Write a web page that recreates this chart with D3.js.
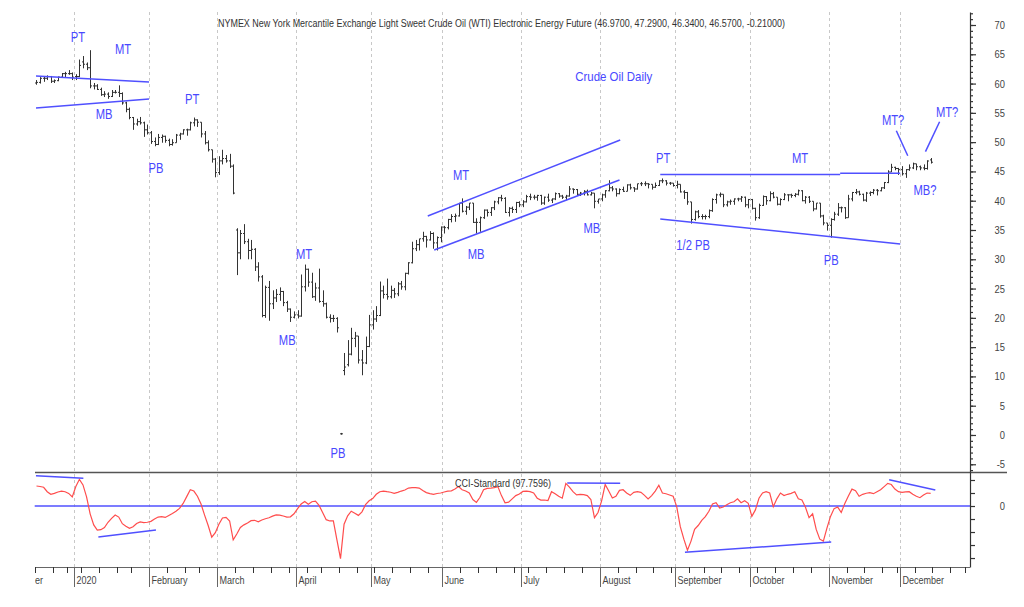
<!DOCTYPE html>
<html lang="en">
<head>
<meta charset="UTF-8">
<title>Crude Oil Daily</title>
<script src="https://d3js.org/d3.v7.min.js"></script>
<style>
  body { margin: 0; background: #fff; }
  text { font-family: "Liberation Sans", Arial, sans-serif; }
</style>
</head>
<body>
<script>
// trading calendar (NYMEX holidays skipped)
const holidays = ["2019-12-25", "2020-01-01", "2020-01-20", "2020-02-17", "2020-04-10",
                  "2020-05-25", "2020-07-03", "2020-09-07", "2020-11-26", "2020-12-25"];
const firstDay = "2019-12-16";
const monthLabels = ["December", "2020", "February", "March", "April", "May", "June",
                     "July", "August", "September", "October", "November", "December"];

// daily OHLC, one line per month (Dec 2019 .. Dec 2020)
const opens = [
  60.1,60.2,60.9,60.9,61.2,60.4,60.5,61.1,61.7,61.7,61.7,
  61.2,61.2,63.7,63.3,62.7,59.6,59.6,59.0,58.1,58.2,57.8,58.5,58.5,58.3,56.7,55.6,54.2,53.1,53.5,53.3,52.1,
  51.6,50.1,49.6,50.8,51.0,50.3,49.6,49.9,51.2,51.4,52.1,52.1,53.3,53.8,53.4,51.4,49.9,48.7,47.1,
  44.8,46.8,47.2,46.8,45.9,35.0,31.1,34.4,33.0,31.5,31.7,28.7,27.0,20.4,25.2,22.4,23.4,24.0,24.5,22.6,21.5,20.1,
  20.5,20.3,25.3,28.3,26.1,23.6,25.1,22.8,22.4,20.1,19.9,19.9,0.2,11.0,12.0,13.8,16.5,16.9,12.8,12.3,15.1,
  18.8,19.8,20.4,24.6,24.0,23.6,24.7,24.1,25.8,25.3,27.6,29.4,31.8,32.5,33.5,33.9,33.3,34.4,32.8,33.7,
  35.5,35.4,36.8,37.3,37.4,39.6,38.2,38.9,39.6,36.3,36.3,37.1,38.4,38.0,38.8,39.8,40.5,40.4,38.0,38.7,38.5,39.7,
  39.3,39.8,40.7,40.6,40.6,40.9,39.6,40.6,40.1,40.3,41.2,40.8,40.6,40.8,42.0,41.9,41.1,41.3,41.6,41.0,41.3,39.9,
  40.3,41.0,41.7,42.2,42.0,41.2,41.9,41.6,42.7,42.2,42.0,42.9,42.9,42.9,42.8,42.3,42.6,43.4,43.4,43.0,43.0,
  42.6,42.8,41.5,41.4,39.8,36.8,38.1,37.3,37.3,37.3,38.3,40.2,41.0,41.1,39.3,39.8,39.9,40.3,40.3,40.6,39.3,
  40.2,38.7,37.1,39.2,40.7,40.0,41.2,40.6,39.4,40.2,41.0,41.0,40.9,41.1,41.7,40.0,40.6,39.9,38.6,39.6,37.4,36.2,
  35.8,36.8,37.7,38.8,38.8,37.1,40.3,41.4,41.5,41.1,40.1,41.3,41.4,41.8,41.7,42.2,43.1,44.9,45.7,45.5,
  45.3,44.6,45.3,45.6,46.3,45.8,45.6,45.5,46.97
];
const highs = [
  60.6,61.1,61.2,61.4,61.3,60.7,61.2,61.8,62.0,62.3,61.9,
  61.6,64.1,64.7,63.6,65.7,60.1,59.9,59.3,58.7,58.5,58.9,58.9,59.7,58.5,56.9,55.9,54.3,54.0,54.3,53.5,53.0,
  51.9,50.8,51.4,51.3,51.1,50.6,50.5,51.4,51.6,52.2,52.3,53.5,54.2,53.9,53.4,51.9,50.3,48.7,47.3,
  47.6,48.7,47.8,48.0,46.2,35.3,35.0,36.0,33.5,33.3,31.9,29.5,27.3,25.5,26.3,24.7,24.9,25.2,24.6,22.9,21.6,21.1,
  21.3,27.4,29.1,28.4,27.7,26.0,28.4,24.7,22.6,20.6,20.5,20.1,0.35,14.0,16.2,18.3,17.6,16.9,14.5,16.8,20.5,
  21.3,22.0,26.2,25.5,26.7,25.5,25.1,26.1,26.3,27.7,29.5,33.0,33.3,33.5,34.7,34.0,34.8,34.6,33.9,35.6,
  35.7,36.9,37.7,37.8,39.6,40.4,39.1,39.6,39.6,37.0,37.3,38.5,38.5,38.9,40.0,40.6,41.0,40.6,38.9,39.0,39.8,39.9,
  40.1,41.0,41.2,41.0,41.0,41.0,40.7,41.2,40.4,41.4,41.3,41.0,41.0,42.5,42.1,42.0,41.5,41.8,41.9,41.5,41.3,40.3,
  41.2,41.8,43.5,42.5,42.1,42.1,42.4,42.8,42.9,42.3,42.9,43.2,43.3,43.0,42.8,43.1,43.5,43.8,43.5,43.2,43.0,
  43.4,42.8,41.8,41.5,39.8,38.3,38.4,37.7,37.6,38.5,40.4,41.2,41.4,41.1,40.0,40.2,40.4,40.5,40.8,40.7,40.3,
  40.3,38.8,39.5,40.9,40.8,41.6,41.5,40.6,40.4,41.3,41.1,41.2,41.3,41.9,41.8,40.8,40.8,39.9,39.6,39.6,37.6,36.2,
  37.0,38.1,39.6,39.0,38.9,41.0,41.5,42.0,41.7,41.2,41.5,41.6,42.0,42.0,42.3,43.2,45.2,46.3,45.8,45.6,
  45.9,45.4,46.2,46.5,46.3,46.0,46.2,46.9,47.29
];
const lows = [
  59.8,60.0,60.3,60.6,60.1,60.1,60.4,61.0,61.1,61.5,60.6,
  60.6,61.1,62.6,62.3,59.2,59.0,58.9,57.9,57.7,57.4,57.7,58.3,57.7,56.4,55.1,53.9,52.1,52.8,53.0,50.9,51.3,
  49.7,49.3,49.5,49.9,49.9,49.3,49.4,49.9,50.4,51.3,51.1,52.0,52.7,52.6,50.8,49.6,48.4,46.5,44.0,
  44.4,46.2,46.5,45.6,41.1,27.3,30.0,32.6,30.0,30.0,28.0,26.2,20.1,20.0,19.5,21.5,22.7,22.9,22.0,21.0,19.3,19.9,
  19.9,20.2,24.5,25.3,23.4,22.9,22.6,21.9,19.9,19.2,19.3,17.5,0.05,10.2,11.7,13.6,15.0,12.2,10.2,12.1,15.0,
  18.0,19.3,20.3,23.3,23.1,23.3,23.4,23.7,24.8,24.7,27.4,29.3,31.4,31.5,33.0,32.0,33.2,31.8,31.5,32.9,
  34.4,35.1,36.3,36.4,37.3,38.0,37.6,38.4,36.2,34.4,34.7,36.9,37.3,37.4,38.4,39.4,39.9,37.9,37.3,37.9,37.9,38.9,
  38.9,39.7,40.1,40.2,40.0,39.3,39.3,39.8,39.6,40.1,40.5,40.3,40.1,40.7,41.2,40.8,40.8,40.9,40.9,40.9,38.7,39.5,
  39.9,40.5,41.6,41.6,40.7,41.1,41.5,41.6,41.9,41.5,41.9,42.5,42.5,42.1,41.9,42.2,42.5,43.0,42.6,42.7,42.4,
  42.1,41.4,40.3,39.3,36.1,36.6,37.0,36.8,36.8,37.0,38.1,39.5,40.6,38.9,39.0,39.3,39.3,39.9,39.8,38.9,38.7,
  38.5,36.6,36.9,39.1,39.3,39.9,40.4,39.2,39.2,40.1,39.9,40.5,40.6,40.9,39.9,39.5,39.6,38.2,38.5,37.1,35.8,34.9,
  33.7,36.6,37.4,38.0,36.9,37.1,39.9,41.1,40.9,39.9,39.8,40.8,41.1,40.9,41.6,42.0,43.0,44.9,45.2,44.4,
  44.3,43.9,45.1,45.4,45.2,45.2,45.2,45.3,46.34
];
const closes = [
  60.2,60.9,60.9,61.2,60.4,60.5,61.1,61.7,61.7,61.7,61.1,
  61.2,63.1,63.3,62.7,59.6,59.6,59.0,58.1,58.2,57.8,58.5,58.5,58.3,56.7,55.6,54.2,53.1,53.5,53.3,52.1,51.6,
  50.1,49.6,50.8,51.0,50.3,49.6,49.9,51.2,51.4,52.1,52.1,53.3,53.8,53.4,51.4,49.9,48.7,47.1,44.8,
  46.8,47.2,46.8,45.9,41.3,31.1,34.4,33.0,31.5,31.7,28.7,27.0,20.4,25.2,22.4,23.4,24.0,24.5,22.6,21.5,20.1,20.5,
  20.3,25.3,28.3,26.1,23.6,25.1,22.8,22.4,20.1,19.9,19.9,18.3,0.2,11.6,13.8,16.5,16.9,12.8,12.3,15.1,18.8,
  19.8,20.4,24.6,24.0,23.6,24.7,24.1,25.8,25.3,27.6,29.4,31.8,32.5,33.5,33.9,33.3,34.4,32.8,33.7,35.5,
  35.4,36.8,37.3,37.4,39.6,38.2,38.9,39.6,36.3,36.3,37.1,38.4,38.0,38.8,39.8,40.5,40.4,38.0,38.7,38.5,39.7,39.3,
  39.8,40.7,40.6,40.6,40.9,39.6,40.6,40.1,40.3,41.2,40.8,40.6,40.8,42.0,41.9,41.1,41.3,41.6,41.0,41.3,39.9,40.3,
  41.0,41.7,42.2,42.0,41.2,41.9,41.6,42.7,42.2,42.0,42.9,42.9,42.9,42.8,42.3,42.6,43.4,43.4,43.0,43.0,42.6,
  42.8,41.5,41.4,39.8,36.8,38.1,37.3,37.3,37.3,38.3,40.2,41.0,41.1,39.3,39.8,39.9,40.3,40.3,40.6,39.3,40.2,
  38.7,37.1,39.2,40.7,40.0,41.2,40.6,39.4,40.2,41.0,41.0,40.9,41.1,41.7,40.0,40.6,39.9,38.6,39.6,37.4,36.2,35.8,
  36.8,37.7,38.8,38.8,37.1,40.3,41.4,41.5,41.1,40.1,41.3,41.4,41.8,41.7,42.2,43.1,44.9,45.7,45.5,45.3,
  44.6,45.3,45.6,46.3,45.8,45.6,45.5,46.78,46.57
];

// CCI-Standard, one value per trading day
const cci = [
  154,150,144,110,90,97,108,115,110,97,70,
  150,205,162,70,-60,-145,-185,-182,-165,-125,-95,-69,-85,-136,-155,-172,-160,-135,-122,-127,-125,
  -118,-100,-85,-82,-88,-73,-58,-40,-18,20,72,125,115,75,15,-70,-150,-240,-205,
  -140,-92,-87,-115,-260,-215,-165,-145,-130,-113,-110,-121,-108,-98,-90,-78,-68,-70,-77,-85,-83,-60,
  -20,15,35,13,33,38,5,-50,-105,-115,-115,-260,-405,-140,-75,-40,-55,-72,-45,10,40,
  57,90,110,115,110,106,98,105,115,123,138,141,141,138,120,103,95,90,96,100,
  108,115,117,130,149,125,115,100,50,28,67,125,136,138,141,149,80,25,30,55,80,92,
  112,114,110,100,60,46,46,42,110,95,75,60,174,145,110,85,90,88,80,50,-90,-50,
  40,165,115,62,75,120,125,100,82,105,110,105,82,55,80,115,160,100,94,85,75,
  -5,-159,-255,-340,-270,-180,-150,-110,-82,-40,15,25,-15,-8,10,25,33,55,25,40,21,
  -80,-30,60,100,110,100,-5,55,100,80,90,97,110,55,46,-10,-90,-60,-180,-255,-270,-170,
  -80,-20,-8,-50,20,77,130,118,75,90,98,103,95,110,125,149,174,165,130,110,
  105,108,110,90,75,64,85,100,97.7596
];

// annotations: text, slot position (trading-day units), price level of baseline
const noteTexts  = ["PT", "MT", "MB", "PB", "PT", "MT", "MB", "PB", "MT", "MB", "MB",
                    "PT", "MT", "1/2 PB", "PB", "MT?", "MT?", "MB?"];
const noteSlots  = [12.1, 24.7, 19.4, 33.9, 44.0, 75.3, 70.6, 84.8, 119.2, 123.4, 155.8,
                    175.7, 214.0, 184.1, 222.7, 240.0, 255.1, 248.9];
const notePrices = [67.15, 65.05, 53.95, 44.73, 56.51, 30.05, 15.36, -3.93, 43.54, 30.05, 34.49,
                    46.44, 46.44, 31.58, 29.02, 52.93, 54.29, 40.97];

// trend lines [slot1, value1, slot2, value2]
const priceLines = [
  [0.36, 61.29, 31.96, 60.27],
  [0.36, 55.83, 31.96, 57.37],
  [109.9, 37.39, 163.7, 50.37],
  [111.7, 31.58, 163.5, 43.54],
  [174.9, 44.47, 225.2, 44.47],
  [225.2, 44.68, 242.0, 44.68],
  [174.9, 36.88, 242.0, 32.61],
  [240.9, 51.95, 244.1, 47.68],
  [253.0, 53.49, 249.05, 48.37]
];
const cciLines = [
  [0.36, 233, 13.6, 213],
  [17.8, -238, 33.9, -185],
  [148.9, 177, 163.7, 175],
  [181.8, -356, 222.7, -277],
  [238.9, 202, 251.8, 123]
];

const width = 1024, height = 607;
const blue = "#5050ff", textBlue = "#4848ff", ink = "#333";

const svg = d3.select("body").append("svg")
    .attr("width", width)
    .attr("height", height);

// the source chart uses a narrow face; squeeze each text to match
function condense(sel, k) {
  sel.each(function() {
    this.setAttribute("textLength", this.getComputedTextLength() * k);
    this.setAttribute("lengthAdjust", "spacingAndGlyphs");
  });
}

// calendar slots: index 0 = first bar
const fmt = d3.utcFormat("%Y-%m-%d");
const days = d3.utcDays(new Date(Date.UTC(2019, 11, 2)), new Date(Date.UTC(2021, 0, 1)))
    .filter(d => d.getUTCDay() > 0 && d.getUTCDay() < 6 && !holidays.includes(fmt(d)));
const offset = days.findIndex(d => fmt(d) === firstDay);
const slots = days.map((d, k) => ({ date: d, i: k - offset }));

const monthStarts = slots.filter((s, k) => k === 0 || s.date.getUTCMonth() !== slots[k - 1].date.getUTCMonth());
const weekStarts = slots.filter((s, k) => k > 0 && s.date.getUTCDay() < slots[k - 1].date.getUTCDay()
    && !monthStarts.includes(s));

// scales
const x = d3.scaleLinear().domain([0, 261.5]).range([34.7, 970]);
const y = d3.scaleLinear().domain([-6.32, 72.22]).range([472, 12]);
const yc = d3.scaleLinear().domain([-469, 261.5]).range([567, 472]);

svg.append("defs").append("clipPath").attr("id", "plot")
  .append("rect").attr("x", 35).attr("y", 0).attr("width", 989).attr("height", height);

// month gridlines
svg.append("g").selectAll("line")
  .data(monthStarts.filter(s => s.i >= 0))
  .join("line")
    .attr("x1", d => Math.round(x(d.i)) + 0.5).attr("x2", d => Math.round(x(d.i)) + 0.5)
    .attr("y1", 12).attr("y2", 567)
    .attr("stroke", "#c8c8c8")
    .attr("stroke-dasharray", "3,3");

// zero line of CCI
svg.append("line")
    .attr("x1", x(0)).attr("x2", x(261.5))
    .attr("y1", yc(0)).attr("y2", yc(0))
    .attr("stroke", blue).attr("stroke-width", 1.5);

// OHLC bars
const bars = svg.append("g").attr("stroke", ink).attr("stroke-width", 1);
d3.range(closes.length).forEach(i => {
  const cx = Math.round(x(i + 0.5)) + 0.5;
  bars.append("line")
      .attr("x1", cx).attr("x2", cx)
      .attr("y1", y(highs[i])).attr("y2", y(lows[i]));
  bars.append("line")
      .attr("x1", cx - 1.5).attr("x2", cx)
      .attr("y1", y(opens[i])).attr("y2", y(opens[i]));
  bars.append("line")
      .attr("x1", cx).attr("x2", cx + 1.5)
      .attr("y1", y(closes[i])).attr("y2", y(closes[i]));
});

// CCI line
svg.append("path")
    .datum(cci)
    .attr("fill", "none")
    .attr("stroke", "#ff4d4d")
    .attr("stroke-width", 1.2)
    .attr("d", d3.line().x((d, i) => x(i + 0.5)).y(d => yc(d)));

// trend lines
svg.append("g").selectAll("line")
  .data(priceLines.map(l => [x(l[0]), y(l[1]), x(l[2]), y(l[3])])
    .concat(cciLines.map(l => [x(l[0]), yc(l[1]), x(l[2]), yc(l[3])])))
  .join("line")
    .attr("x1", d => d[0]).attr("y1", d => d[1])
    .attr("x2", d => d[2]).attr("y2", d => d[3])
    .attr("stroke", blue).attr("stroke-width", 1.5);

// annotation labels
svg.append("g").selectAll("text")
  .data(noteTexts)
  .join("text")
    .attr("x", (d, i) => x(noteSlots[i]))
    .attr("y", (d, i) => y(notePrices[i]))
    .attr("text-anchor", "middle")
    .attr("fill", textBlue)
    .style("font-size", "14px")
    .text(d => d)
    .call(condense, 0.8);

svg.append("text")
    .attr("x", x(161.9)).attr("y", y(60.44))
    .attr("text-anchor", "middle")
    .attr("fill", textBlue)
    .attr("textLength", 77).attr("lengthAdjust", "spacingAndGlyphs")
    .style("font-size", "13px")
    .text("Crude Oil Daily");

// title with last bar values
const last = closes.length - 1;
const f4 = d3.format(".4f");
const hy = s => s.replace("\u2212", "-");
svg.append("text")
    .attr("x", 218).attr("y", 26.5)
    .attr("fill", ink)
    .attr("textLength", 567).attr("lengthAdjust", "spacingAndGlyphs")
    .style("font-size", "10px")
    .text(`NYMEX New York Mercantile Exchange Light Sweet Crude Oil (WTI) Electronic Energy Future (${f4(opens[last])}, ${f4(highs[last])}, ${f4(lows[last])}, ${f4(closes[last])}, ${hy(d3.format(".5f")(closes[last] - closes[last - 1]))})`);

svg.append("text")
    .attr("x", 455).attr("y", 487)
    .attr("fill", ink)
    .attr("textLength", 96).attr("lengthAdjust", "spacingAndGlyphs")
    .style("font-size", "10px")
    .text(`CCI-Standard (${f4(cci[last])})`);

// panel separator
svg.append("line")
    .attr("x1", 35).attr("x2", 1007)
    .attr("y1", 472.5).attr("y2", 472.5)
    .attr("stroke", "#555").attr("stroke-width", 1.5);

// right price axis
function styleAxis(g) {
  g.selectAll("path, line").attr("stroke", ink).attr("stroke-width", 1.2);
  g.selectAll("text")
    .attr("x", 35).attr("text-anchor", "end")
    .attr("fill", "#444")
    .style("font-size", "11px")
    .style("font-family", "'Liberation Sans', Arial, sans-serif")
    .call(condense, 0.85);
}
svg.append("g")
    .attr("transform", "translate(970,0)")
    .call(d3.axisRight(y).tickValues(d3.range(-6, 73, 1)).tickSize(3).tickSizeOuter(0).tickFormat(""))
    .call(styleAxis);
svg.append("g")
    .attr("transform", "translate(970,0)")
    .call(d3.axisRight(y).tickValues(d3.range(-5, 71, 5)).tickSize(6).tickSizeOuter(0).tickFormat(d => String(d)))
    .call(g => g.select(".domain").remove())
    .call(styleAxis);

// right CCI axis
svg.append("g")
    .attr("transform", "translate(970,0)")
    .call(d3.axisRight(yc).tickValues(d3.range(-400, 201, 100)).tickSize(5).tickSizeOuter(0)
      .tickFormat(d => d === 0 ? "0" : ""))
    .call(styleAxis);

// bottom date axis
const xAxis = svg.append("g").attr("transform", "translate(0,567)").attr("clip-path", "url(#plot)");
xAxis.append("line")
    .attr("x1", 35).attr("x2", 970)
    .attr("stroke", ink).attr("stroke-width", 1.5);
xAxis.selectAll(".wk")
  .data(weekStarts.filter(s => s.i >= 0 && s.i <= 261))
  .join("line")
    .attr("class", "wk")
    .attr("x1", d => Math.round(x(d.i)) + 0.5).attr("x2", d => Math.round(x(d.i)) + 0.5)
    .attr("y1", 0).attr("y2", 6)
    .attr("stroke", ink);
const months = xAxis.selectAll(".mo")
  .data(monthStarts)
  .join("g")
    .attr("class", "mo")
    .attr("transform", d => `translate(${Math.round(x(d.i)) + 0.5},0)`);
months.append("line")
    .attr("y1", 0).attr("y2", 20)
    .attr("stroke", "#666");
months.append("text")
    .attr("x", 2).attr("y", 17)
    .attr("fill", "#444")
    .style("font-size", "11px")
    .text((d, k) => monthLabels[k])
    .call(condense, 0.82);
</script>
</body>
</html>
